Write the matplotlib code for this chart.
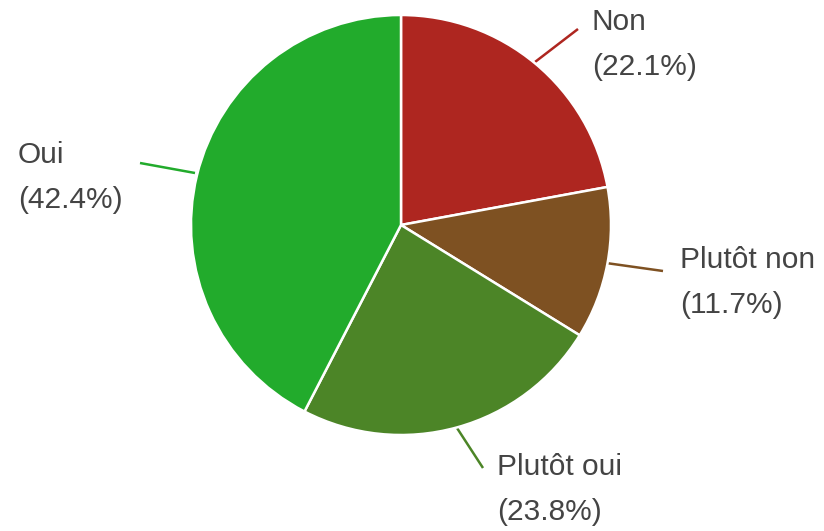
import matplotlib
matplotlib.use("Agg")
import matplotlib.pyplot as plt

labels = ["Non", "Plutôt non", "Plutôt oui", "Oui"]
values = [22.1, 11.7, 23.8, 42.4]
colors = ["#AE2620", "#7E5122", "#4C8527", "#22AB2C"]

W, H = 824, 531
fig = plt.figure(figsize=(W / 100, H / 100), dpi=100)
ax = fig.add_axes([0, 0, 1, 1])
ax.set_xlim(0, W)
ax.set_ylim(H, 0)
ax.axis("off")

cx, cy, r = 401, 225, 210
ax2 = fig.add_axes([0, 0, 1, 1])
ax2.pie(values, colors=colors, startangle=90, counterclock=False,
        center=(cx, H - cy), radius=r, frame=True,
        wedgeprops=dict(edgecolor="white", linewidth=1.8))
ax2.set_xlim(0, W)
ax2.set_ylim(0, H)
ax2.axis("off")

# leader lines and labels (pixel coordinates, y downward)
leaders = [((535, 62), (578, 29)),
           ((606, 263), (663, 271)),
           ((457, 428), (483, 468)),
           ((195, 173), (140, 163))]
text_pos = [(592, 30), (680, 268), (497, 475), (18, 163)]
for (p0, p1), (tx, ty), lab, v, c in zip(leaders, text_pos, labels, values, colors):
    ax.plot([p0[0], p1[0]], [p0[1], p1[1]], color=c, lw=1.8, solid_capstyle="butt")
    ax.text(tx, ty, lab, fontsize=21.5, color="#444444", family="Liberation Sans", va="baseline", ha="left")
    ax.text(tx, ty + 45, f"({v}%)", fontsize=21.5, color="#444444", family="Liberation Sans", va="baseline", ha="left")

fig.savefig("out.png", dpi=100)
